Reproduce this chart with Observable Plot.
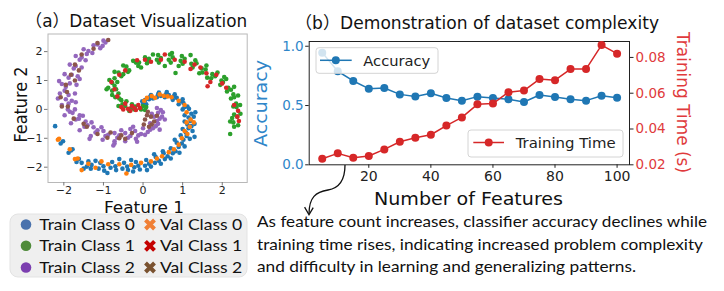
<!DOCTYPE html>
<html><head><meta charset="utf-8">
<script src="https://cdn.jsdelivr.net/npm/d3@7"></script>
<script src="https://cdn.jsdelivr.net/npm/@observablehq/plot@0.6"></script>
<style>
html,body{margin:0;padding:0;background:#fff;}
#wrap{position:relative;width:724px;height:291px;overflow:hidden;background:#fff;}
</style></head><body><div id="wrap"></div>
<script>
// ---------- Data: panel (b) ----------
const features = [5,10,15,20,25,30,35,40,45,50,55,60,65,70,75,80,85,90,95,100];
const accuracy = [0.946,0.789,0.707,0.642,0.648,0.594,0.577,0.603,0.563,0.541,0.575,0.563,0.552,0.530,0.589,0.572,0.552,0.541,0.583,0.566];
const trainingTime = [0.0234,0.0264,0.0239,0.0249,0.0286,0.0329,0.0351,0.0368,0.0419,0.0465,0.0538,0.0542,0.0606,0.0615,0.0679,0.0673,0.0735,0.0735,0.0869,0.0821];
const featureTicks = [20,40,60,80,100];
const accuracyTicks = [0,0.5,1.0];
const timeTicks = [0.02,0.04,0.06,0.08];

// ---------- Data: panel (a) ----------
const scatterTicks = [-2,-1,0,1,2];
const trainClass0 = [[0.0,0.2],[0.05,0.32],[-0.02,0.28],[0.08,0.18],[0.15,0.35],[0.2,0.5],[0.25,0.38],[0.18,0.44],[0.35,0.42],[0.4,0.58],[0.45,0.47],[0.38,0.52],[0.55,0.42],[0.6,0.6],[0.65,0.5],[0.58,0.52],[0.75,0.33],[0.8,0.52],[0.85,0.4],[0.78,0.45],[0.9,0.18],[1.0,0.35],[1.02,0.22],[0.95,0.28],[1.0,0.0],[1.12,0.1],[1.16,0.02],[1.05,0.08],[1.05,-0.2],[1.22,-0.15],[1.15,-0.28],[1.28,-0.25],[1.05,-0.42],[1.2,-0.4],[1.3,-0.5],[1.12,-0.52],[1.0,-0.68],[1.15,-0.65],[1.25,-0.75],[1.08,-0.8],[0.95,-0.9],[1.1,-0.92],[1.18,-1.02],[1.02,-1.05],[0.85,-1.15],[0.98,-1.18],[1.05,-1.28],[0.9,-1.3],[0.7,-1.35],[0.82,-1.45],[0.92,-1.5],[0.75,-1.52],[0.52,-1.52],[0.62,-1.62],[0.7,-1.7],[0.55,-1.72],[0.32,-1.65],[0.4,-1.78],[0.45,-1.88],[0.3,-1.85],[0.08,-1.75],[0.15,-1.88],[0.2,-1.98],[0.05,-1.95],[-0.18,-1.82],[-0.12,-1.95],[-0.08,-2.08],[-0.22,-2.0],[-0.48,-1.85],[-0.4,-1.98],[-0.38,-2.1],[-0.52,-2.05],[-0.78,-1.82],[-0.7,-1.97],[-0.68,-2.1],[-0.82,-2.02],[-1.08,-1.85],[-1.0,-1.97],[-0.98,-2.12],[-1.12,-2.05],[-1.38,-1.8],[-1.3,-1.92],[-1.32,-2.05],[-1.42,-1.98],[-1.62,-1.72],[-1.55,-1.85],[-1.68,-1.82],[-1.82,-1.42],[-1.88,-1.5],[-1.78,-1.38],[-2.02,-1.1],[-2.08,-1.18],[-2.22,-0.58],[1.32,-0.1],[0.5,-1.45],[-0.25,-2.15],[-0.6,-1.72],[1.3,-0.95],[0.8,-1.05],[0.28,-1.55],[1.22,-0.58],[-1.2,-1.78],[-0.9,-2.2],[-0.3,-1.75],[0.1,-2.1],[-1.5,-2.05]];
const trainClass1 = [[0.05,-0.02],[0.0,0.12],[-0.05,0.0],[0.08,0.08],[-0.22,0.0],[-0.28,0.18],[-0.2,0.1],[-0.3,0.05],[-0.45,0.12],[-0.55,0.32],[-0.52,0.18],[-0.42,0.28],[-0.6,0.38],[-0.78,0.5],[-0.7,0.42],[-0.62,0.55],[-0.68,0.7],[-0.88,0.75],[-0.78,0.65],[-0.72,0.82],[-0.65,0.95],[-0.85,1.02],[-0.78,0.92],[-0.72,1.08],[-0.55,1.15],[-0.72,1.3],[-0.62,1.28],[-0.5,1.22],[-0.35,1.35],[-0.5,1.52],[-0.42,1.48],[-0.38,1.3],[-0.12,1.5],[-0.25,1.68],[-0.18,1.62],[-0.1,1.62],[0.1,1.6],[0.05,1.8],[0.15,1.75],[0.12,1.68],[0.4,1.62],[0.38,1.88],[0.45,1.78],[0.35,1.72],[0.7,1.62],[0.68,1.9],[0.75,1.8],[0.65,1.72],[1.0,1.58],[0.98,1.85],[1.05,1.75],[0.95,1.68],[1.25,1.45],[1.32,1.7],[1.35,1.6],[1.22,1.58],[1.5,1.28],[1.6,1.52],[1.58,1.38],[1.48,1.42],[1.72,1.08],[1.88,1.28],[1.82,1.15],[1.75,1.22],[1.95,0.85],[2.1,1.05],[2.02,0.95],[1.98,1.0],[2.12,0.62],[2.3,0.78],[2.22,0.68],[2.15,0.75],[2.22,0.38],[2.4,0.48],[2.3,0.42],[2.28,0.52],[2.28,0.1],[2.45,0.15],[2.36,0.08],[2.35,0.2],[2.3,-0.18],[2.46,-0.15],[2.38,-0.25],[2.28,-0.45],[2.4,-0.55],[2.3,-0.6],[2.2,-0.85],[2.25,-0.3],[2.2,-0.42],[0.82,1.26],[0.73,1.95],[-0.92,0.7],[1.62,1.1],[0.55,1.5],[-0.35,-0.05],[-0.62,0.12],[2.05,1.12],[1.2,1.88],[-0.05,1.45],[0.25,1.9],[0.9,1.5],[1.42,1.25]];
const trainClass2 = [[0.45,-0.02],[0.35,0.05],[0.38,-0.12],[0.5,-0.1],[0.28,-0.25],[0.42,-0.32],[0.35,-0.4],[0.48,-0.25],[0.18,-0.48],[0.32,-0.58],[0.25,-0.65],[0.38,-0.5],[0.0,-0.65],[0.12,-0.78],[0.05,-0.88],[0.18,-0.7],[-0.2,-0.75],[-0.12,-0.9],[-0.18,-1.02],[-0.05,-0.85],[-0.45,-0.82],[-0.38,-0.98],[-0.45,-1.1],[-0.32,-0.92],[-0.72,-0.82],[-0.65,-0.98],[-0.72,-1.1],[-0.6,-0.9],[-1.0,-0.75],[-0.95,-0.92],[-1.02,-1.05],[-0.88,-0.88],[-1.25,-0.62],[-1.2,-0.8],[-1.32,-0.92],[-1.15,-0.72],[-1.45,-0.42],[-1.48,-0.6],[-1.6,-0.72],[-1.4,-0.55],[-1.6,-0.2],[-1.7,-0.35],[-1.82,-0.48],[-1.62,-0.32],[-1.72,0.0],[-1.85,-0.08],[-1.98,-0.2],[-1.78,-0.12],[-1.7,0.25],[-1.88,0.2],[-2.05,0.15],[-1.95,0.35],[-1.72,0.55],[-1.88,0.5],[-2.1,0.55],[-1.98,0.65],[-1.68,0.85],[-1.85,0.9],[-2.05,0.88],[-1.95,0.78],[-1.65,1.15],[-1.8,1.2],[-1.98,1.22],[-1.88,1.1],[-1.55,1.45],[-1.7,1.5],[-1.85,1.55],[-1.75,1.42],[-1.45,1.7],[-1.55,1.8],[-1.7,1.85],[-1.6,1.72],[-1.28,1.95],[-1.38,2.02],[-1.5,2.08],[-1.42,1.92],[-1.08,2.12],[-1.15,2.25],[-1.25,2.22],[-1.02,2.2],[-0.95,2.32],[-1.0,2.38],[0.55,-0.35],[0.42,-0.7],[-0.15,-1.12],[-0.55,-0.72],[-1.05,-0.62],[-2.15,0.38],[-1.6,1.05],[-2.12,0.98],[-1.52,-0.22],[0.22,-0.15],[-0.32,-0.68],[-0.72,-1.18],[-1.35,-1.02],[-0.75,-1.25],[-1.8,0.3],[-1.9,0.0],[-1.3,-0.45],[-0.25,-0.6]];
const valClass0 = [[0.03,0.3],[0.1,0.4],[0.22,0.46],[0.3,0.4],[0.42,0.52],[0.52,0.47],[0.62,0.45],[0.72,0.42],[0.9,0.3],[1.05,0.15],[1.1,-0.1],[1.2,-0.35],[1.1,-0.45],[1.18,-0.6],[1.05,-0.75],[1.12,-0.85],[0.98,-1.0],[0.9,-1.22],[0.78,-1.38],[0.65,-1.48],[0.48,-1.62],[0.35,-1.7],[0.2,-1.8],[-0.05,-1.85],[-0.3,-1.92],[-0.42,-2.22],[-0.6,-1.9],[-0.88,-1.9],[-1.05,-1.8],[-1.2,-2.02],[-1.38,-1.88],[-1.55,-2.1],[-1.72,-1.72],[-1.65,-1.7],[-1.85,-1.38],[-2.12,-1.02],[-2.15,-1.05],[1.28,-0.45]];
const valClass1 = [[-0.08,0.05],[-0.18,-0.02],[-0.28,0.12],[-0.38,0.02],[-0.45,0.2],[-0.55,0.08],[-0.12,0.15],[-0.32,-0.05],[-0.5,0.0],[-0.22,0.05],[-0.65,0.45],[-0.72,0.7],[-0.8,0.95],[-0.6,1.2],[-0.45,1.35],[-0.15,1.7],[0.05,1.72],[0.2,1.65],[0.45,1.72],[0.55,1.9],[0.8,1.72],[1.05,1.65],[1.3,1.55],[1.2,1.4],[1.45,1.45],[1.6,1.25],[1.85,1.2],[1.7,0.95],[2.0,0.9],[1.63,0.8],[2.3,0.15],[2.38,-0.25],[2.42,-0.4],[2.4,-0.05],[2.1,0.75]];
const valClass2 = [[0.12,-0.08],[0.2,-0.25],[0.05,-0.35],[0.28,-0.42],[0.02,-0.52],[0.15,-0.6],[0.35,-0.22],[0.1,-0.2],[0.22,-0.52],[-0.28,-0.82],[-0.55,-0.9],[-0.82,-0.8],[-0.9,-0.98],[-0.45,-1.02],[-1.15,-0.85],[-1.42,-0.6],[-1.5,-0.5],[-1.75,-0.32],[-1.9,0.1],[-2.05,0.1],[-1.92,0.6],[-1.95,0.85],[-1.82,1.2],[-1.72,1.55],[-1.55,1.9],[-1.25,2.1],[-1.15,2.3],[-0.88,2.4],[-1.72,1.0],[-1.62,1.35],[-2.08,0.42],[-0.6,-1.0]];

const legendLabels = ["Train Class 0","Train Class 1","Train Class 2","Val Class 0","Val Class 1","Val Class 2"];
const captionLines = [
  "As feature count increases, classifier accuracy declines while",
  "training time rises, indicating increased problem complexity",
  "and difficulty in learning and generalizing patterns."
];

// ---------- styling ----------
const DV = "DejaVu Sans, 'Noto Sans CJK SC', sans-serif";
const CAL = "Lato, 'Noto Sans', sans-serif";
const BLUE = "#1f77b4", RED = "#d62728";
const BLUE_TXT = "#2f86c9", RED_TXT = "#e03a3c";
const scatterColors = ["#1f77b4","#2ca02c","#9467bd","#ff7f0e","#d62728","#8c564b"];
const legendColors = ["#4a72ad","#4f8b3a","#7c3fb0","#f07f35","#c40000","#7a5230"];

const wrap = document.getElementById("wrap");
function place(el, left, top) {
  el.style.position = "absolute";
  el.style.left = left + "px";
  el.style.top = top + "px";
  wrap.appendChild(el);
}
const px = d => d[0], py = d => d[1];

// ---------- Panel (a): scatter ----------
const scatterSets = [trainClass0, trainClass1, trainClass2, valClass0, valClass1, valClass2];
const scatter = Plot.plot({
  width: 250, height: 200,
  marginLeft: 47.5, marginRight: 3.3, marginTop: 33.5, marginBottom: 18,
  style: {background: "transparent", fontFamily: DV, fontSize: "11px", color: "#222", overflow: "visible"},
  x: {domain: [-2.40, 2.63]},
  y: {domain: [-2.53, 2.61]},
  marks: [
    ...scatterSets.map((s, i) => Plot.dot(s, {x: px, y: py, r: 2.3, fill: scatterColors[i]})),
    Plot.frame({stroke: "#b8b8b8"}),
    Plot.axisX({ticks: scatterTicks, tickSize: 3.5, tickPadding: 0.5, label: null, stroke: "#777", tickFormat: d3.format("d")}),
    Plot.axisY({ticks: scatterTicks, tickSize: 3.5, tickPadding: 2, label: null, stroke: "#777", tickFormat: d3.format("d")})
  ]
});
place(scatter, 0, 0);

// ---------- Panel (b): twin axes ----------
const accRows = features.map((f, i) => ({f, v: accuracy[i]}));
const timeRows = features.map((f, i) => ({f, v: trainingTime[i]}));
const common = {
  width: 474, height: 200,
  marginLeft: 58.7, marginRight: 95, marginTop: 41, marginBottom: 35.7
};
const accPlot = Plot.plot({
  ...common,
  style: {background: "transparent", fontFamily: DV, fontSize: "14px", color: "#222", overflow: "visible"},
  x: {domain: [0.8, 104]},
  y: {domain: [0, 1.04]},
  marks: [
    Plot.frame({stroke: "#222"}),
    Plot.axisX({ticks: featureTicks, tickSize: 3.5, tickPadding: 3, label: null, fontSize: 14}),
    Plot.axisY({ticks: accuracyTicks, tickSize: 3.5, tickPadding: 2, label: null, tickFormat: d3.format(".1f"), color: BLUE_TXT, stroke: "#222", fontSize: 13.5}),
    Plot.line(accRows, {x: "f", y: "v", stroke: BLUE, strokeWidth: 1.5}),
    Plot.dot(accRows, {x: "f", y: "v", r: 4, fill: BLUE})
  ]
});
place(accPlot, 250, 0);

const timePlot = Plot.plot({
  ...common,
  style: {background: "transparent", fontFamily: DV, fontSize: "13.5px", color: "#222", overflow: "visible"},
  x: {domain: [0.8, 104], axis: null},
  y: {domain: [0.02, 0.0889]},
  marks: [
    Plot.axisY({anchor: "right", ticks: timeTicks, tickSize: 3.5, tickPadding: 2.5, label: null, tickFormat: d3.format(".2f"), color: RED_TXT, stroke: "#222", fontSize: 13.5}),
    Plot.line(timeRows, {x: "f", y: "v", stroke: RED, strokeWidth: 1.5}),
    Plot.dot(timeRows, {x: "f", y: "v", r: 4, fill: RED})
  ]
});
place(timePlot, 250, 0);

// ---------- Overlay: titles, labels, legends, caption, arrow ----------
const ov = d3.create("svg").attr("width", 724).attr("height", 291)
  .style("pointer-events", "none").style("overflow", "visible");
function label(s, o) {
  const t = ov.append("text").text(s)
    .attr("font-family", o.font).attr("font-size", o.size)
    .attr("fill", o.fill || "#111")
    .attr("text-anchor", o.anchor || "start");
  if (o.len) t.attr("textLength", o.len).attr("lengthAdjust", "spacingAndGlyphs");
  if (o.rotate) t.attr("transform", `translate(${o.x},${o.y}) rotate(${o.rotate})`);
  else t.attr("x", o.x).attr("y", o.y);
  return t;
}
// titles
label("（a）Dataset Visualization", {x: 25.3, y: 26.7, size: 17, font: DV, len: 222});
label("（b）Demonstration of dataset complexity", {x: 295, y: 29.3, size: 17, font: DV, len: 364});
// axis labels
label("Feature 2", {x: 27, y: 104.5, rotate: -90, anchor: "middle", size: 17, font: DV, len: 76});
label("Feature 1", {x: 144, y: 213, anchor: "middle", size: 16, font: DV, len: 80});
label("Accuracy", {x: 267, y: 103.5, rotate: -90, anchor: "middle", size: 17.5, font: DV, len: 87, fill: BLUE_TXT});
label("Training Time (s)", {x: 676.5, y: 102.5, rotate: 90, anchor: "middle", size: 17.5, font: DV, len: 141, fill: RED_TXT});
label("Number of Features", {x: 468.5, y: 205, anchor: "middle", size: 17.5, font: DV, len: 189});

// panel (b) legends
ov.append("rect").attr("x", 316).attr("y", 47.7).attr("width", 122).attr("height", 25.6).attr("rx", 3)
  .attr("fill", "rgba(255,255,255,0.8)").attr("stroke", "#d4d4d4");
ov.append("line").attr("x1", 320).attr("x2", 351.7).attr("y1", 60.3).attr("y2", 60.3).attr("stroke", BLUE).attr("stroke-width", 1.5);
ov.append("circle").attr("cx", 335.8).attr("cy", 60.3).attr("r", 4).attr("fill", BLUE);
label("Accuracy", {x: 363.3, y: 65.5, size: 14.6, font: DV, len: 67, fill: "#222"});

ov.append("rect").attr("x", 468).attr("y", 130).attr("width", 155).attr("height", 27).attr("rx", 3)
  .attr("fill", "rgba(255,255,255,0.8)").attr("stroke", "#d4d4d4");
ov.append("line").attr("x1", 473.3).attr("x2", 504).attr("y1", 142.5).attr("y2", 142.5).attr("stroke", RED).attr("stroke-width", 1.5);
ov.append("circle").attr("cx", 488.7).attr("cy", 142.5).attr("r", 4).attr("fill", RED);
label("Training Time", {x: 515.7, y: 148, size: 14.6, font: DV, len: 100, fill: "#222"});

// panel (a) legend
ov.append("rect").attr("x", 10).attr("y", 214).attr("width", 237).attr("height", 63).attr("rx", 8)
  .attr("fill", "#efefef").attr("stroke", "#e3e3e3");
const rowY = [224.5, 245.8, 267.5];
const rowBase = [229.5, 251, 273];
rowY.forEach((y, i) => {
  ov.append("circle").attr("cx", 26).attr("cy", y).attr("r", 5.3).attr("fill", legendColors[i]);
  label(legendLabels[i], {x: 39.3, y: rowBase[i], size: 16, font: CAL, len: 95.7, fill: "#111"});
  const cx = 150, s = 4.5;
  ov.append("path").attr("d", `M${cx-s},${y-s}L${cx+s},${y+s}M${cx-s},${y+s}L${cx+s},${y-s}`)
    .attr("stroke", legendColors[i + 3]).attr("stroke-width", 4).attr("fill", "none");
  label(legendLabels[i + 3], {x: 160, y: rowBase[i], size: 16, font: CAL, len: 82.3, fill: "#111"});
});

// caption
const capBase = [226.7, 249.6, 272.4];
const capLen = [450, 446, 379];
captionLines.forEach((s, i) => label(s, {x: 257, y: capBase[i], size: 16, font: CAL, len: capLen[i], fill: "#111"}));

// arrow
ov.append("path").attr("d", "M345,165 C345,178 340,188 328,190 C316,192 309,197 309,214")
  .attr("fill", "none").attr("stroke", "#111").attr("stroke-width", 1.3);
ov.append("path").attr("d", "M304.6,207.2 L309,214.8 L313.2,207.6")
  .attr("fill", "none").attr("stroke", "#111").attr("stroke-width", 1.3);

place(ov.node(), 0, 0);
</script></body></html>
